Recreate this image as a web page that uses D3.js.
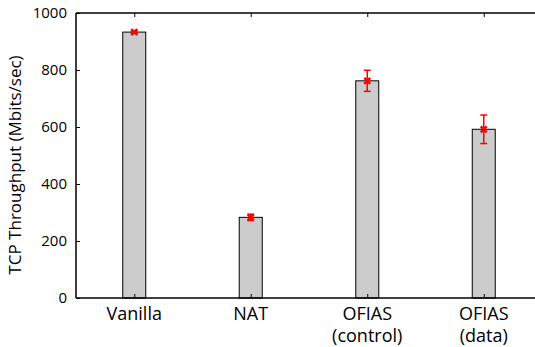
<!DOCTYPE html>
<html><head><meta charset="utf-8">
<script src="https://cdn.jsdelivr.net/npm/d3@7"></script>
<style>body{margin:0;background:#fff}svg{display:block}text{font-family:"Open Sans",sans-serif;fill:#000}</style>
</head><body>
<script>
const categories = [["Vanilla"], ["NAT"], ["OFIAS", "(control)"], ["OFIAS", "(data)"]];
const throughput = [933, 283, 762, 592];
const errLow = [4, 11, 37, 50];
const errHigh = [4, 11, 37, 50];
const yTicks = [0, 200, 400, 600, 800, 1000];

const W = 535, H = 347;
const svg = d3.select("body").append("svg").attr("width", W).attr("height", H);
const x = d3.scaleLinear().domain([0.5, 4.5]).range([76, 542]);
const y = d3.scaleLinear().domain([0, 1000]).range([298, 13]);
const bw = 23;

// bars
svg.selectAll("rect.bar").data(throughput).enter().append("rect")
  .attr("x", (d, i) => x(i + 1) - bw / 2).attr("y", d => y(d))
  .attr("width", bw).attr("height", d => y(0) - y(d))
  .attr("fill", "#cccccc").attr("stroke", "#000").attr("stroke-width", 1);

// error bars
const eg = svg.append("g").attr("stroke", "#ff0000").attr("stroke-width", 1.5);
throughput.forEach((d, i) => {
  const cx = x(i + 1);
  eg.append("line").attr("x1", cx).attr("x2", cx).attr("y1", y(d - errLow[i])).attr("y2", y(d + errHigh[i]));
  [d - errLow[i], d + errHigh[i]].forEach(v => {
    eg.append("line").attr("x1", cx - 3.5).attr("x2", cx + 3.5).attr("y1", y(v)).attr("y2", y(v));
  });
  const s = 3;
  eg.append("path").attr("d", `M${cx - s},${y(d) - s}L${cx + s},${y(d) + s}M${cx - s},${y(d) + s}L${cx + s},${y(d) - s}`)
    .attr("stroke-width", 2.5);
});

// axes
const leftAxis = svg.append("g").attr("transform", "translate(76,0)")
  .call(d3.axisLeft(y).tickValues(yTicks).tickSize(-4).tickPadding(9).tickFormat(d3.format("d")));
leftAxis.selectAll("text").style("font-size", "15px");
const bottomAxis = svg.append("g").attr("transform", "translate(0,298)")
  .call(d3.axisBottom(x).tickValues([1, 2, 3, 4]).tickSize(-4).tickFormat(""));
const topAxis = svg.append("g").attr("transform", "translate(0,13)")
  .call(d3.axisTop(x).tickValues([1, 2, 3, 4]).tickSize(-4).tickFormat(""));
[leftAxis, bottomAxis, topAxis].forEach(g => {
  g.select(".domain").attr("stroke", "#000").attr("stroke-width", 1.5);
  g.selectAll(".tick line").attr("stroke", "#000").attr("stroke-width", 1);
});
leftAxis.select(".domain").attr("d", "M0,298V13");
bottomAxis.select(".domain").attr("d", "M76,0H542");
topAxis.select(".domain").attr("d", "M76,0H542");

// category labels
categories.forEach((lines, i) => {
  const t = svg.append("text").attr("x", x(i + 1)).attr("y", 320).attr("text-anchor", "middle").style("font-size", "18px");
  lines.forEach((l, j) => t.append("tspan").attr("x", x(i + 1)).attr("dy", j === 0 ? 0 : 22).text(l));
});

svg.append("text").attr("transform", "translate(21,165) rotate(-90)").attr("text-anchor", "middle")
  .style("font-size", "17px").text("TCP Throughput (Mbits/sec)");
</script>
</body></html>
